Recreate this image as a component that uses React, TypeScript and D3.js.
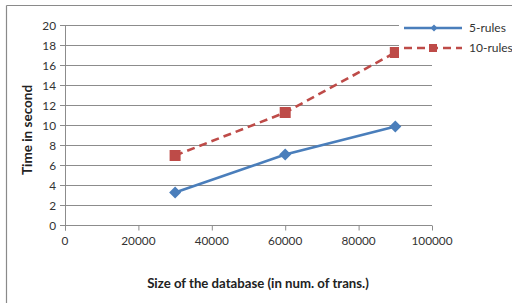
import React from "react";
import * as d3 from "d3";

const xValues = [30000, 60000, 90000];
const rules5 = [3.3, 7.1, 9.9];
const rules10 = [7.0, 11.3, 17.3];
const xTicks = [0, 20000, 40000, 60000, 80000, 100000];
const yTicks = [0, 2, 4, 6, 8, 10, 12, 14, 16, 18, 20];
const seriesNames = ["5-rules", "10-rules"];

const W = 512, H = 303;
const font = "Lato, 'Open Sans', sans-serif";

export default function App() {
  const x = d3.scaleLinear().domain([0, 100000]).range([65, 432]);
  const y = d3.scaleLinear().domain([0, 20]).range([225.5, 25.5]);
  const line = d3.line<[number, number]>().x(d => x(d[0])).y(d => y(d[1]));
  const d5 = line(xValues.map((v, i) => [v, rules5[i]]) as [number, number][]) || "";
  const d10 = line(xValues.map((v, i) => [v, rules10[i]]) as [number, number][]) || "";
  const blue = "#4a7ebb", red = "#be4b48", grid = "#8c8c8c";
  const diamond = (cx: number, cy: number, r: number) => `M${cx},${cy - r}L${cx + r},${cy}L${cx},${cy + r}L${cx - r},${cy}Z`;
  return (
    <svg width={W} height={H} style={{ position: "absolute", left: 0, top: 0, background: "#fff" }}>
      <rect x={0} y={0} width={W} height={H} fill="#fff" />
      <line x1={6.5} y1={5.5} x2={W} y2={5.5} stroke="#8a8a8a" strokeWidth={1.2} />
      <line x1={6.5} y1={5.5} x2={6.5} y2={H} stroke="#8a8a8a" strokeWidth={1.2} />
      {yTicks.map(t => (
        <g key={"y" + t}>
          <line x1={60} x2={x(100000)} y1={y(t)} y2={y(t)} stroke={grid} strokeWidth={1} />
          <text x={56} y={y(t) + 4} textAnchor="end" fontSize={11.8} fontFamily={font} fill="#333">{t}</text>
        </g>
      ))}
      <line x1={65.5} x2={65.5} y1={y(20)} y2={y(0) + 5} stroke={grid} strokeWidth={1} />
      {xTicks.map(t => (
        <g key={"x" + t}>
          <line x1={x(t) + 0.5} x2={x(t) + 0.5} y1={y(0)} y2={y(0) + 5} stroke={grid} strokeWidth={1} />
          <text x={x(t)} y={245} textAnchor="middle" fontSize={11.8} fontFamily={font} fill="#333">{t}</text>
        </g>
      ))}
      <path d={d10} fill="none" stroke={red} strokeWidth={2.6} strokeDasharray="8,5" />
      <path d={d5} fill="none" stroke={blue} strokeWidth={2.6} />
      {xValues.map((v, i) => (
        <rect key={"s" + i} x={x(v) - 5.5} y={y(rules10[i]) - 5.5} width={11} height={11} fill={red} />
      ))}
      {xValues.map((v, i) => (
        <path key={"d" + i} d={diamond(x(v), y(rules5[i]), 6)} fill={blue} />
      ))}
      <rect x={399} y={18} width={W - 399} height={40} fill="#fff" />
      <line x1={404} x2={462} y1={28} y2={28} stroke={blue} strokeWidth={2.6} />
      <path d={diamond(434, 28, 3.5)} fill={blue} />
      <text x={469} y={32} fontSize={12} fontFamily={font} fill="#333">{seriesNames[0]}</text>
      <line x1={404} x2={462} y1={48} y2={48} stroke={red} strokeWidth={2.6} strokeDasharray="8,5" />
      <rect x={429} y={44} width={8} height={8} fill={red} />
      <text x={469} y={52} fontSize={12} fontFamily={font} fill="#333">{seriesNames[1]}</text>
      <text transform={`translate(32,130) rotate(-90)`} textAnchor="middle" fontSize={13.5} fontWeight="bold" fontFamily={font} fill="#222">Time  in second</text>
      <text x={258} y={288} textAnchor="middle" fontSize={13.2} fontWeight="bold" fontFamily={font} fill="#222">Size of the database (in num. of trans.)</text>
    </svg>
  );
}
